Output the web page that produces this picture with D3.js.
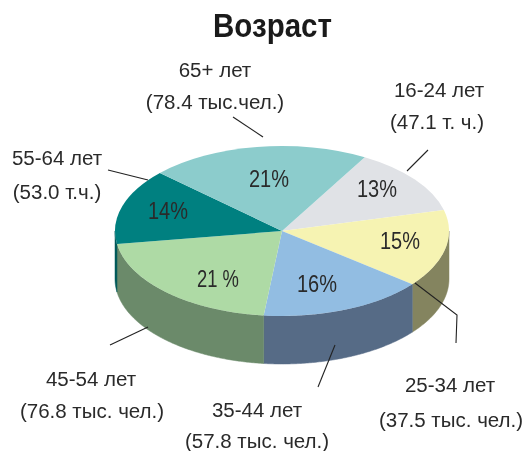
<!DOCTYPE html>
<html><head><meta charset="utf-8">
<script src="https://cdnjs.cloudflare.com/ajax/libs/d3/7.8.5/d3.min.js"></script>
<style>html,body{margin:0;padding:0;background:#fff}svg{display:block;filter:blur(.5px)}text{font-family:"Liberation Sans",Arial,sans-serif;fill:#2a2a2a}</style>
</head><body><svg id="c" width="523" height="451"></svg>
<script>
const title = "Возраст";
const categories = ["16-24 лет","25-34 лет","35-44 лет","45-54 лет","55-64 лет","65+ лет"];
const amounts = ["(47.1 т. ч.)","(37.5 тыс. чел.)","(57.8 тыс. чел.)","(76.8 тыс. чел.)","(53.0 т.ч.)","(78.4 тыс.чел.)"];
const percentLabels = ["13%","15%","16%","21 %","14%","21%"];
const shares = [12.8,14.7,16.0,20.8,14.4,21.3];
const topColors = ["#e0e2e6","#f6f3b2","#92bde2","#aedaa5","#008080","#8ccccc"];
const wallColors = ["#8a8a8a","#84845f","#566b86","#6b8a6a","#005a5a","#5f8f8f"];

const cx=282, cy=231, rx=167, ry=85, depth=48, toRad=Math.PI/180;
const svg=d3.select("#c");
const pie=d3.pie().sort(null).value(d=>d).startAngle(29.7*toRad).endAngle((29.7+360)*toRad);
const arcs=pie(shares);
const px=a=>cx+rx*Math.sin(a), py=a=>cy-ry*Math.cos(a);

// side wall: front half of each slice, drawn through a line generator
const line=d3.line().x(d=>d[0]).y(d=>d[1]);
const walls=svg.append("g");
arcs.forEach((s,i)=>{
  [[s.startAngle,s.endAngle],[s.startAngle-2*Math.PI,s.endAngle-2*Math.PI]].forEach(([a0,a1])=>{
    const from=Math.max(a0,Math.PI/2), to=Math.min(a1,1.5*Math.PI);
    if(to<=from) return;
    const angles=d3.range(from,to,.01).concat([to]);
    const upper=angles.map(a=>[px(a),py(a)]);
    const lower=angles.slice().reverse().map(a=>[px(a),py(a)+depth]);
    walls.append("path").attr("d",line(upper.concat(lower))+"Z")
      .attr("fill",wallColors[i]).attr("stroke",wallColors[i]).attr("stroke-width",.5);
  });
});

// top face
const arc=d3.arc().innerRadius(0).outerRadius(rx);
svg.append("g").attr("transform",`translate(${cx},${cy}) scale(1,${ry/rx})`)
  .selectAll("path").data(arcs).join("path")
  .attr("d",arc).attr("fill",(d,i)=>topColors[i]);

// percent labels
const pctPos=[[377,197],[400,249],[317,292],[218,287],[168,219],[269,187]];
svg.append("g").selectAll("text").data(percentLabels).join("text")
  .attr("x",(d,i)=>pctPos[i][0]).attr("y",(d,i)=>pctPos[i][1])
  .attr("text-anchor","middle").attr("font-size",23)
  .attr("textLength",d=>d.includes(" ")?42:40).attr("lengthAdjust","spacingAndGlyphs").text(d=>d);

// leader lines
const leaders=[
 [[428,150],[407,171]],
 [[415,283],[457,315],[456,343]],
 [[335,345],[318,387]],
 [[110,345],[148,327]],
 [[108,170],[148,180]],
 [[233,117],[263,137]]];
const leaderLine=d3.line();
svg.append("g").selectAll("path").data(leaders).join("path")
  .attr("d",d=>leaderLine(d)).attr("fill","none").attr("stroke","#222").attr("stroke-width",1.1);

// outer labels
const namePos=[[439,97],[450,392],[257,417],[91,386],[57,165],[215,77]];
const amountPos=[[437,129],[451,427],[257,448],[92,418],[57,199],[215,109]];
const outer=svg.append("g").attr("text-anchor","middle").attr("font-size",20.5);
categories.forEach((c,i)=>{
  outer.append("text").attr("x",namePos[i][0]).attr("y",namePos[i][1]).text(c);
  outer.append("text").attr("x",amountPos[i][0]).attr("y",amountPos[i][1]).text(amounts[i]);
});

svg.append("text").attr("x",272.5).attr("y",37).attr("text-anchor","middle")
  .attr("font-size",33).attr("font-weight","bold")
  .attr("textLength",119).attr("lengthAdjust","spacingAndGlyphs").style("fill","#1a1a1a").text(title);
</script></body></html>
